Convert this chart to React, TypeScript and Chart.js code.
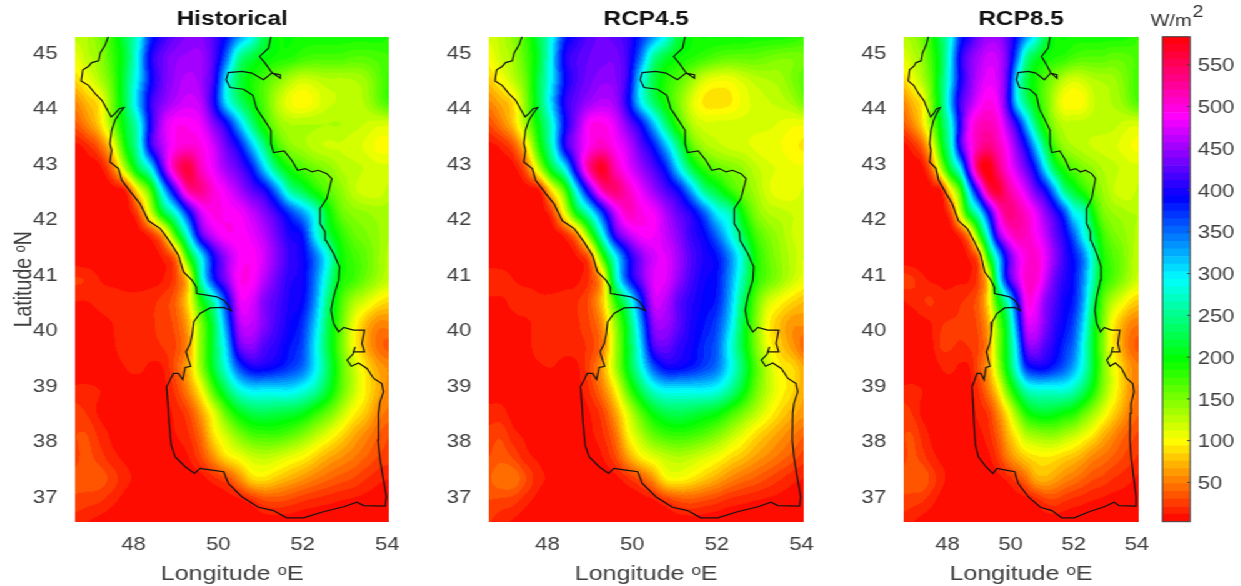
import React, { useEffect, useRef } from "react";
import { Chart, registerables } from "chart.js";

Chart.register(...registerables);

const STRETCH = 1.25;
const lons = [46.6,46.9,47.2,47.5,47.8,48.1,48.4,48.7,49.0,49.3,49.6,49.9,50.2,50.5,50.8,51.1,51.4,51.7,52.0,52.3,52.6,52.9,53.2,53.5,53.8,54.1];
const lats = [45.3,44.9,44.5,44.1,43.7,43.3,42.9,42.5,42.1,41.7,41.3,40.9,40.5,40.1,39.7,39.3,38.9,38.5,38.1,37.7,37.3,36.9,36.5];
const xTickValues = [48,50,52,54];
const yTickValues = [37,38,39,40,41,42,43,44,45];
const colorTicks = [50,100,150,200,250,300,350,400,450,500,550];

const historical = [
[125,130,150,180,225,280,370,410,430,440,440,420,385,335,290,225,195,195,190,190,190,190,190,190,190,185],
[105,125,140,175,215,295,395,430,445,450,450,420,350,255,220,200,190,185,175,170,170,170,165,165,170,175],
[85,105,130,165,225,300,385,430,450,460,450,410,300,225,190,170,150,130,118,122,128,128,130,138,160,180],
[55,75,95,155,225,315,405,440,460,470,460,400,300,240,200,165,128,105,95,105,118,122,125,132,155,175],
[35,55,85,145,210,275,395,465,490,490,480,440,395,320,245,185,145,130,130,130,130,130,125,120,115,115],
[8,18,40,95,190,265,400,460,495,505,495,470,430,390,320,245,175,145,135,125,120,120,115,110,100,100],
[3,5,8,45,130,220,290,425,525,560,510,480,450,425,385,310,235,190,170,155,145,130,125,120,115,115],
[3,3,3,5,15,95,170,305,420,520,530,500,480,455,425,400,340,260,225,190,165,145,125,115,115,125],
[3,3,3,3,5,30,115,215,285,385,470,495,490,485,465,440,410,370,330,280,205,160,145,140,135,135],
[3,3,3,3,3,5,20,65,175,290,420,470,490,490,480,460,430,400,385,300,225,185,160,150,140,130],
[5,3,3,3,3,3,5,15,50,185,295,395,450,485,490,470,440,410,395,350,285,200,175,160,140,125],
[22,20,12,8,8,8,8,12,30,90,265,380,440,490,490,460,430,405,395,345,270,195,175,155,135,120],
[12,12,15,18,15,15,18,25,40,90,190,265,375,475,475,440,420,400,390,335,245,175,135,115,95,85],
[5,5,8,12,18,20,20,25,35,70,150,225,340,455,465,440,415,395,375,315,230,165,110,75,55,55],
[5,5,5,10,20,20,18,22,30,60,145,220,310,425,445,420,405,385,365,300,225,160,105,70,45,35],
[3,3,3,5,12,15,10,12,35,70,140,215,285,360,395,395,385,370,350,300,235,170,125,90,65,55],
[15,15,12,10,8,5,5,8,25,55,100,170,230,280,300,300,300,300,285,260,215,165,125,95,70,50],
[25,20,10,8,5,8,8,8,15,30,65,110,165,205,225,230,225,220,210,185,160,130,100,80,55,45],
[30,30,18,10,8,8,10,10,12,20,45,90,120,150,170,175,175,165,150,130,110,90,70,55,40,30],
[28,33,25,15,10,8,8,5,8,12,30,60,90,105,120,125,120,110,100,85,70,60,50,40,30,25],
[32,36,35,26,15,10,8,5,5,5,8,18,30,55,85,90,80,70,60,50,42,35,30,22,15,12],
[28,25,22,15,8,5,3,3,3,3,3,3,5,8,18,30,32,28,22,18,15,12,10,8,6,5],
[15,12,8,5,3,3,3,3,3,3,3,3,3,3,3,5,5,5,3,3,3,3,3,3,3,3],
];
const rcp45 = [
[115,125,145,175,225,290,375,405,425,430,425,410,375,335,285,220,195,195,195,195,195,190,190,190,185,175],
[100,120,135,170,215,300,395,420,430,435,435,410,345,255,215,195,185,175,165,160,160,160,155,150,150,155],
[80,100,125,160,225,300,385,420,435,445,440,405,300,225,185,165,140,115,105,105,115,125,130,135,150,165],
[55,70,90,150,225,310,400,430,450,460,450,395,300,235,190,150,115,92,88,92,105,115,120,125,135,155],
[30,50,80,140,205,280,385,445,490,495,475,435,390,320,240,175,130,115,115,115,115,115,115,110,105,105],
[8,15,35,90,185,270,395,455,495,510,490,465,425,385,320,240,165,135,125,118,115,110,105,103,96,92],
[3,5,8,40,125,215,290,420,530,570,515,480,450,420,380,300,225,180,160,150,140,125,115,110,105,105],
[3,3,3,5,12,90,165,300,420,515,540,510,480,450,420,390,325,250,215,180,155,135,115,105,105,115],
[3,3,3,3,5,25,105,205,280,375,465,510,495,485,455,425,400,355,295,265,195,150,130,125,120,120],
[3,3,3,3,3,5,18,60,165,285,410,460,485,485,465,440,410,390,350,295,230,175,150,135,120,115],
[5,3,3,3,3,3,5,12,45,175,290,385,440,470,475,450,420,400,385,340,275,195,160,140,125,110],
[18,18,12,8,8,8,8,10,25,80,255,370,430,475,475,445,415,395,385,335,265,190,160,140,120,105],
[10,10,15,18,14,14,16,20,35,80,180,260,370,465,460,425,405,390,380,325,240,165,120,100,85,75],
[5,5,8,10,16,18,18,20,30,60,140,220,330,440,450,425,400,385,365,310,225,155,100,75,60,60],
[5,5,5,8,18,18,16,18,25,50,130,210,305,415,430,410,395,375,355,290,220,155,105,80,60,40],
[3,3,3,5,10,12,8,10,30,65,130,205,280,355,390,390,380,365,345,295,235,170,125,95,85,65],
[8,8,8,6,5,5,5,8,22,50,95,165,225,275,295,295,295,295,285,255,210,160,125,100,85,65],
[15,15,8,6,5,6,6,6,12,28,65,115,165,205,225,230,225,215,205,180,155,130,105,85,70,60],
[25,28,15,10,6,6,8,8,10,20,45,95,130,160,175,180,175,165,150,130,110,90,75,62,50,40],
[30,36,28,15,10,6,6,5,6,12,30,65,95,112,125,130,125,115,105,90,78,65,55,45,35,25],
[38,46,46,30,15,10,6,5,5,5,8,20,35,60,95,100,92,80,68,55,45,38,30,22,15,12],
[30,28,25,15,8,5,3,3,3,3,3,3,5,10,22,32,35,30,25,18,15,12,10,8,6,5],
[22,15,10,5,3,3,3,3,3,3,3,3,3,3,3,5,5,5,3,3,3,3,3,3,3,3],
];
const rcp85 = [
[130,135,155,185,230,285,370,405,435,450,450,425,385,335,290,225,195,195,190,190,190,190,190,190,185,175],
[110,125,140,175,220,300,395,435,455,470,465,430,350,255,215,195,185,180,170,165,165,165,160,160,165,170],
[85,105,130,165,225,305,390,435,465,480,470,420,300,225,190,165,145,125,115,120,128,132,135,145,160,175],
[55,75,95,155,225,320,410,450,480,495,480,415,305,240,195,160,125,100,95,100,118,125,130,138,155,170],
[35,55,85,145,210,285,400,480,510,515,500,455,400,320,240,180,140,125,125,125,125,125,125,120,115,115],
[8,18,40,95,190,270,405,480,520,535,515,485,440,390,315,235,170,140,130,125,120,118,115,110,103,100],
[3,5,8,45,130,220,295,440,555,583,540,500,465,430,380,300,225,185,165,150,140,130,125,120,115,115],
[3,3,3,5,15,95,170,310,430,540,565,530,500,470,430,395,330,250,215,185,160,140,125,115,115,125],
[3,3,3,3,5,30,115,215,285,390,490,535,525,505,480,445,410,365,295,270,200,155,140,135,130,130],
[3,3,3,3,3,5,20,65,175,295,430,490,515,510,490,465,430,400,355,295,235,180,155,145,135,125],
[5,3,3,3,3,3,5,15,50,190,305,410,470,500,505,480,445,410,385,345,275,195,170,155,135,120],
[25,22,15,10,10,10,10,12,30,95,270,395,460,505,505,470,430,405,385,340,270,195,170,150,130,115],
[12,15,20,22,15,15,20,25,40,90,190,270,385,490,485,445,420,395,380,330,245,170,130,110,90,80],
[5,5,8,12,20,22,22,25,35,70,150,225,345,465,470,440,410,390,365,310,225,160,105,75,55,50],
[5,5,5,10,22,22,20,22,30,60,145,215,310,430,445,420,400,375,350,290,220,155,100,70,45,35],
[3,3,3,5,12,15,10,12,35,65,130,205,285,370,390,390,375,355,325,280,220,160,115,85,60,50],
[15,15,12,10,8,5,5,8,22,50,90,155,215,265,280,280,280,280,265,235,195,150,115,85,60,45],
[25,20,10,8,5,8,8,8,15,25,55,95,145,190,210,215,210,200,190,165,140,115,90,70,50,40],
[30,30,18,10,8,8,10,10,10,18,38,70,100,130,140,145,145,135,125,110,95,75,60,45,35,28],
[28,33,25,15,10,8,8,5,8,10,25,50,70,85,92,95,92,85,78,68,55,48,40,32,25,20],
[33,38,38,27,15,10,8,5,5,5,8,15,28,45,68,72,65,55,48,40,32,28,22,18,14,10],
[28,25,22,15,8,5,3,3,3,3,3,3,5,8,15,25,28,22,18,15,12,10,8,7,6,5],
[15,12,8,5,3,3,3,3,3,3,3,3,3,3,3,5,5,5,3,3,3,3,3,3,3,3],
];

const coastLon = [47.40,47.33,47.21,47.17,47.01,46.93,46.80,46.76,46.93,47.09,47.25,47.36,47.47,47.56,47.66,47.77,47.68,47.56,47.48,47.44,47.48,47.44,47.64,47.72,47.96,48.15,48.35,48.63,48.86,49.06,49.18,49.38,49.48,49.49,49.73,49.97,50.13,50.24,50.31,50.13,49.81,49.57,49.42,49.39,49.34,49.24,49.30,49.35,49.22,49.16,49.06,48.94,48.86,48.78,48.81,48.84,48.89,48.98,49.22,49.44,49.57,49.85,50.13,50.24,50.56,50.95,51.31,51.62,52.02,52.49,52.97,53.28,53.44,53.95,53.98,53.91,53.82,53.78,53.79,53.82,53.91,53.87,53.68,53.52,53.32,53.15,53.05,53.19,53.24,53.20,53.46,53.40,53.46,53.20,52.97,52.85,52.73,52.67,52.73,52.85,52.87,52.73,52.55,52.53,52.41,52.41,52.57,52.69,52.57,52.37,52.22,52.06,51.88,51.74,51.56,51.31,51.25,51.25,51.07,50.91,50.82,50.60,50.28,50.19,50.24,50.56,50.80,51.07,51.27,51.47,51.47,51.27,51.11,50.98,51.19,51.25];
const coastLat = [45.28,45.13,44.98,44.84,44.81,44.74,44.68,44.48,44.40,44.25,44.13,43.98,43.83,43.89,43.98,44.00,43.91,43.77,43.59,43.35,43.23,43.02,42.90,42.69,42.45,42.27,41.96,41.82,41.58,41.34,41.04,40.89,40.77,40.65,40.62,40.59,40.53,40.44,40.34,40.40,40.39,40.29,40.14,39.93,39.75,39.60,39.45,39.34,39.32,39.10,39.21,39.21,39.09,38.97,38.67,38.31,37.92,37.71,37.53,37.41,37.50,37.47,37.44,37.23,36.99,36.80,36.74,36.61,36.61,36.72,36.81,36.89,36.83,36.82,36.99,37.29,37.71,38.01,38.49,38.67,38.88,39.03,39.12,39.30,39.40,39.34,39.45,39.56,39.69,39.60,39.60,39.75,39.99,39.99,40.04,39.96,40.11,40.35,40.59,40.89,41.13,41.37,41.61,41.76,41.91,42.18,42.36,42.72,42.81,42.87,42.84,42.90,42.87,43.05,43.22,43.19,43.35,43.59,43.80,43.98,44.22,44.33,44.36,44.50,44.63,44.65,44.62,44.50,44.62,44.59,44.53,44.63,44.80,44.92,45.07,45.28];

const V_MIN = 3, V_MAX = 583.6, LEVELS = 64;
const STEP = (V_MAX - V_MIN) / LEVELS;

function hsvRgb(v: number): [number, number, number] {
  const h = ((v - V_MIN) / (V_MAX - V_MIN)) * 6;
  const i = Math.floor(h) % 6, f = h - Math.floor(h);
  const q = 1 - f, t = f;
  const c = [[1,t,0],[q,1,0],[0,1,t],[0,q,1],[t,0,1],[1,0,q]][i];
  return [c[0]*255, c[1]*255, c[2]*255];
}
const levelColor = (k: number) => {
  const [r,g,b] = hsvRgb(V_MIN + (k + 0.5) * STEP);
  return `rgb(${Math.round(r)},${Math.round(g)},${Math.round(b)})`;
};

function cr(a: number, b: number, c: number, d: number, t: number) {
  return b + 0.5 * t * (c - a + t * (2*a - 5*b + 4*c - d + t * (3*(b - c) + d - a)));
}

const fieldPlugin = {
  id: "field",
  beforeDatasetsDraw(chart: any) {
    const ds = chart.data.datasets[0];
    if (!ds || ds.label !== "field") return;
    const { left, top, width, height } = chart.chartArea;
    const x = chart.scales.x, y = chart.scales.y;
    const w = Math.ceil(width), h = Math.ceil(height);
    const off = document.createElement("canvas");
    off.width = w; off.height = h;
    const octx = off.getContext("2d")!;
    const img = octx.createImageData(w, h);
    const nx = lons.length, ny = lats.length;
    const val = (r: number, c: number) => {
      r = Math.max(0, Math.min(ny - 1, r)); c = Math.max(0, Math.min(nx - 1, c));
      return ds.data[r * nx + c].v;
    };
    const dLon = lons[1] - lons[0], dLat = lats[0] - lats[1];
    for (let j = 0; j < h; j++) {
      const lat = y.getValueForPixel(top + j + 0.5);
      const fy = (lats[0] - lat) / dLat;
      const r0 = Math.floor(fy), ty = fy - r0;
      for (let i = 0; i < w; i++) {
        const lon = x.getValueForPixel(left + i + 0.5);
        const fx = (lon - lons[0]) / dLon;
        const c0 = Math.floor(fx), tx = fx - c0;
        const rowV = [-1,0,1,2].map((d) =>
          cr(val(r0+d,c0-1), val(r0+d,c0), val(r0+d,c0+1), val(r0+d,c0+2), tx));
        let v = cr(rowV[0], rowV[1], rowV[2], rowV[3], ty);
        v = Math.max(V_MIN, Math.min(V_MAX - 1, v));
        const k = Math.floor((v - V_MIN) / STEP);
        const [cr_, cg, cb] = hsvRgb(V_MIN + (k + 0.5) * STEP);
        const p = (j * w + i) * 4;
        img.data[p] = cr_; img.data[p+1] = cg; img.data[p+2] = cb; img.data[p+3] = 255;
      }
    }
    octx.putImageData(img, 0, 0);
    chart.ctx.save();
    chart.ctx.drawImage(off, left, top, width, height);
    chart.ctx.restore();
  },
};

const FONT = "'Liberation Sans', Arial, sans-serif";
const AXIS = "#404040";
const areaTop = 36.7, areaBottom = 521.7;
// Two-line tick label with a small line height: nudges digits down to sit as in the reference.
const nudged = (v: any) => ["", String(v)];
const Y_TICK_FONT = { family: FONT, size: 17.7, lineHeight: 0.2 };

const framePlugin = {
  id: "frame",
  afterDraw(chart: any) {
    const y = chart.scales.y;
    const { left, right, top, bottom } = chart.chartArea;
    const c = chart.ctx;
    c.save();
    c.strokeStyle = "#404040"; c.lineWidth = 1;
    c.strokeRect(left, top, right - left, bottom - top);
    colorTicks.forEach((t) => {
      const py = y.getPixelForValue(t);
      c.beginPath(); c.moveTo(right - 2.4, py); c.lineTo(right, py); c.stroke();
    });
    c.fillStyle = "#333";
    c.font = `16px ${FONT}`;
    c.textBaseline = "alphabetic";
    c.textAlign = "left";
    c.fillText("W/m", 2.4, 26);
    c.fillText("2", 36, 17);
    c.restore();
  },
};

function panelConfig(title: string, values: number[][], axisW: number, areaW: number, canvasW: number, showY: boolean) {
  const points: any[] = [];
  values.forEach((row, r) => row.forEach((v, c) => points.push({ x: lons[c], y: lats[r], v })));
  return {
    type: "scatter",
    data: {
      datasets: [
        { label: "field", data: points, pointRadius: 0, showLine: false },
        {
          label: "coast",
          data: coastLon.map((x, i) => ({ x, y: coastLat[i] })),
          showLine: true, pointRadius: 0, borderColor: "#141414", borderWidth: 1.2, tension: 0, fill: false,
        },
      ],
    },
    options: {
      responsive: false, animation: false, devicePixelRatio: 1,
      layout: { padding: { left: 0, top: 0, bottom: 0, right: canvasW - axisW - areaW } },
      plugins: {
        legend: { display: false }, tooltip: { enabled: false },
        title: { display: true, text: title, fullSize: false, color: "#111",
          font: { family: FONT, size: 19.5, weight: "bold", lineHeight: 1.2 }, padding: { top: 8, bottom: areaTop - 8 - 23.4 } },
      },
      scales: {
        x: {
          type: "linear", min: 46.615, max: 54.05,
          grid: { display: false }, border: { display: false },
          afterBuildTicks: (s: any) => { s.ticks = xTickValues.map((value) => ({ value })); },
          afterFit: (s: any) => { s.height = 586 - areaBottom; },
          ticks: { color: AXIS, font: { family: FONT, size: 17.7 }, padding: 5, maxRotation: 0, autoSkip: false },
          title: { display: true, text: "Longitude ᵒE", color: AXIS, font: { family: FONT, size: 20 }, padding: { top: 0, bottom: 0 } },
        },
        y: {
          type: "linear", min: 36.54, max: 45.276,
          grid: { display: false }, border: { display: false },
          afterBuildTicks: (s: any) => { s.ticks = yTickValues.map((value) => ({ value })); },
          afterFit: (s: any) => { s.width = axisW; },
          ticks: { color: AXIS, font: Y_TICK_FONT, padding: 6, autoSkip: false, callback: nudged },
          title: { display: showY, text: "Latitude ᵒN", color: AXIS, font: { family: FONT, size: 19.5 }, padding: { top: 8, bottom: 0 } },
        },
      },
    },
  };
}

function colorbarConfig(axisW: number) {
  const levels = Array.from({ length: LEVELS }, (_, k) => k);
  return {
    type: "bar",
    data: {
      labels: ["W/m²"],
      datasets: levels.map((k) => ({
        data: [k === 0 ? V_MIN + STEP : STEP], backgroundColor: levelColor(k), borderWidth: 0,
        barPercentage: 1, categoryPercentage: 1, stack: "c",
      })),
    },
    options: {
      responsive: false, animation: false, devicePixelRatio: 1,
      layout: { padding: { left: 12, top: areaTop, bottom: 586 - areaBottom, right: 0 } },
      plugins: { legend: { display: false }, tooltip: { enabled: false }, title: { display: false } },
      scales: {
        x: { display: false, stacked: true },
        y: {
          position: "right", stacked: true, min: V_MIN, max: V_MAX,
          grid: { display: false, drawTicks: false }, border: { display: false },
          afterBuildTicks: (s: any) => { s.ticks = colorTicks.map((value) => ({ value })); },
          afterFit: (s: any) => { s.width = axisW; },
          ticks: { color: AXIS, font: Y_TICK_FONT, padding: 6, autoSkip: false, callback: nudged },
        },
      },
    },
  };
}

const panels = [
  { title: "Historical", values: historical, left: 0, axisW: 60, areaW: 251.44, w: 332, showY: true },
  { title: "RCP4.5", values: rcp45, left: 346.2, axisW: 45, areaW: 252, w: 317, showY: false },
  { title: "RCP8.5", values: rcp85, left: 677.64, axisW: 45, areaW: 187.76, w: 248, showY: false },
];

export default function App() {
  const refs = useRef<(HTMLCanvasElement | null)[]>([]);
  useEffect(() => {
    const charts: Chart[] = [];
    panels.forEach((p, i) => {
      charts.push(new Chart(refs.current[i]!, { ...(panelConfig(p.title, p.values, p.axisW, p.areaW, p.w, p.showY) as any), plugins: [fieldPlugin] }));
    });
    charts.push(new Chart(refs.current[3]!, { ...(colorbarConfig(80 - 12 - 22.16) as any), plugins: [framePlugin] }));
    return () => charts.forEach((c) => c.destroy());
  }, []);
  return (
    <div style={{ position: "fixed", left: 0, top: 0, width: 1241 / STRETCH, height: 586, transform: `scaleX(${STRETCH})`, transformOrigin: "0 0", background: "#fff" }}>
      {panels.map((p, i) => (
        <canvas key={p.title} ref={(el) => { refs.current[i] = el; }} width={p.w} height={586} style={{ position: "absolute", left: p.left, top: 0 }} />
      ))}
      <canvas ref={(el) => { refs.current[3] = el; }} width={80} height={586} style={{ position: "absolute", left: 917.6, top: 0 }} />
    </div>
  );
}
